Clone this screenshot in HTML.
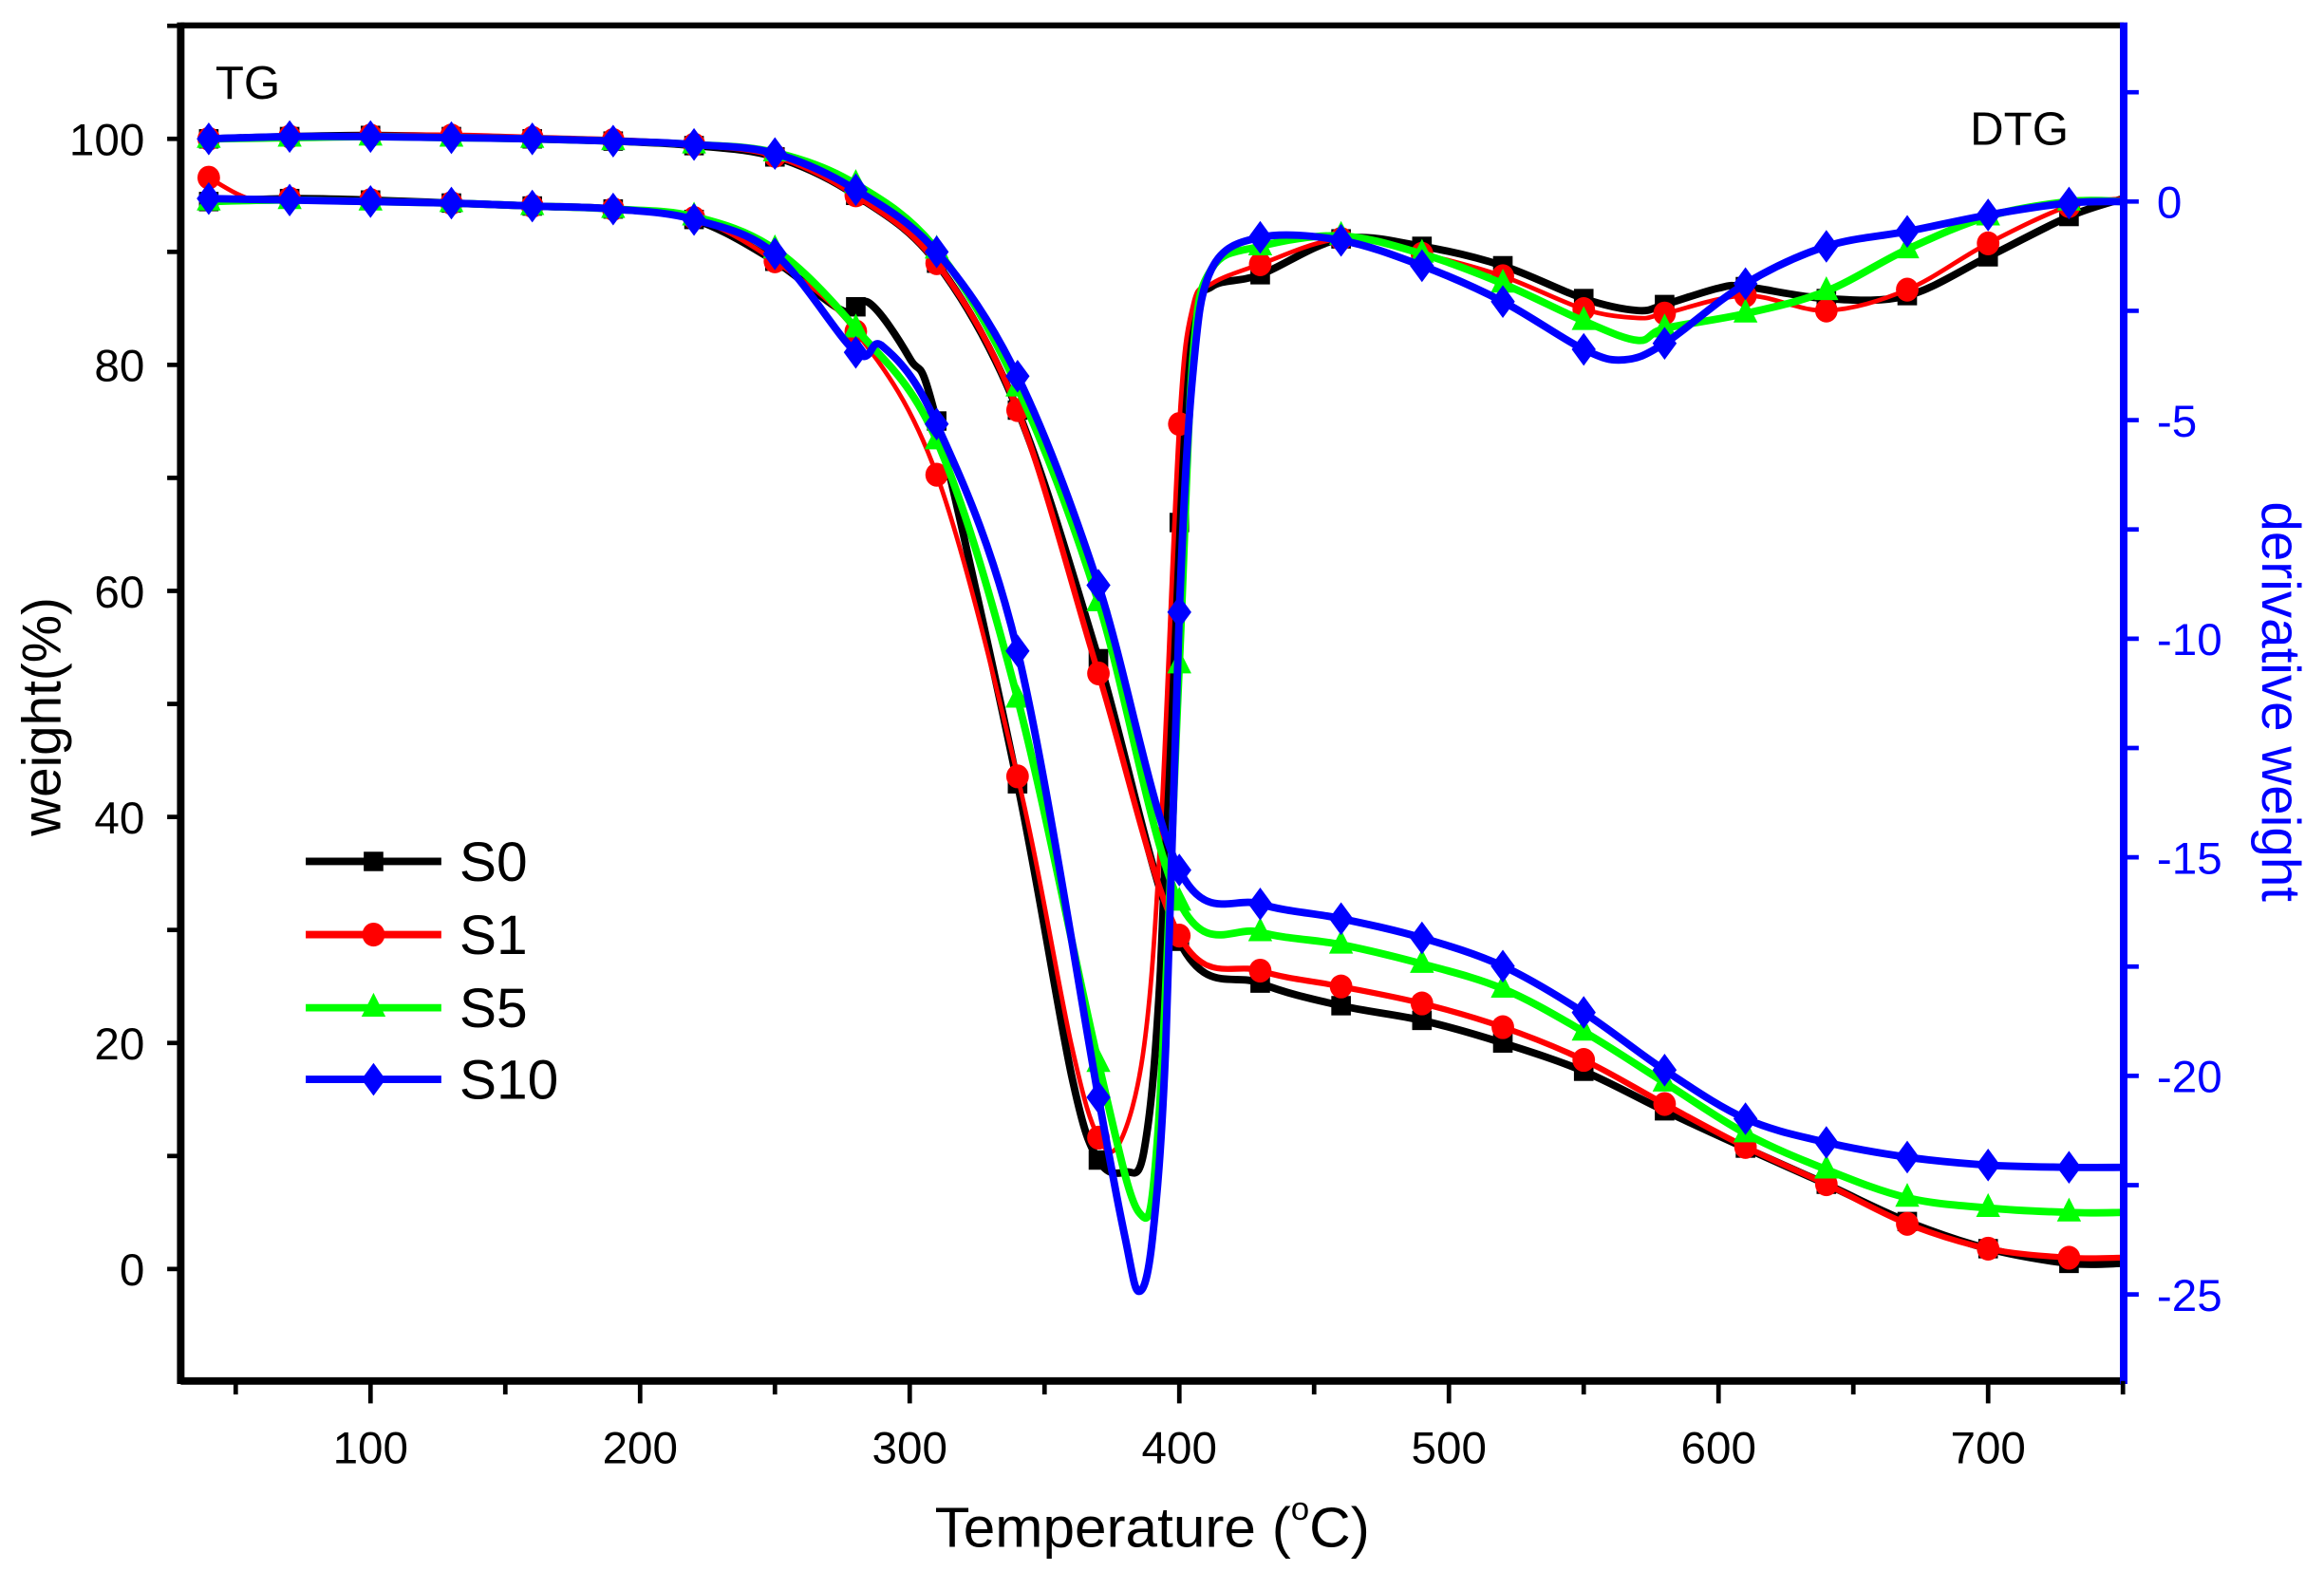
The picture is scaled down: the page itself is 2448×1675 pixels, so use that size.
<!DOCTYPE html>
<html><head><meta charset="utf-8"><style>
html,body{margin:0;padding:0;background:#fff;}
svg{display:block;}
text{font-family:"Liberation Sans",Arial,sans-serif;}
</style></head><body>
<svg id="s" width="2448" height="1675" viewBox="0 0 1543 1065" preserveAspectRatio="none" xmlns="http://www.w3.org/2000/svg">
<rect width="1543" height="1065" fill="#fff"/>
<g id="curves"></g>
<g id="axes"></g>
<text x="765" y="1036" font-size="38" text-anchor="middle" fill="#000">Temperature (<tspan font-size="22" dy="-18">o</tspan><tspan dy="18">C)</tspan></text>
</svg>
<script>
var NS="http://www.w3.org/2000/svg";
function X(t){return 246+(t-100)*1.79;}
function W(w){return 850-7.57*w;}
function el(tag,attrs,parent,txt){var e=document.createElementNS(NS,tag);for(var k in attrs)e.setAttribute(k,attrs[k]);if(txt!==undefined)e.textContent=txt;(parent||document.getElementById('s')).appendChild(e);return e;}
function path(pts){var d="M"+pts[0][0]+","+pts[0][1];for(var i=0;i<pts.length-1;i++){var p0=pts[i-1]||pts[i],p1=pts[i],p2=pts[i+1],p3=pts[i+2]||p2;var c1=[p1[0]+(p2[0]-p0[0])/6,p1[1]+(p2[1]-p0[1])/6],c2=[p2[0]-(p3[0]-p1[0])/6,p2[1]-(p3[1]-p1[1])/6];d+=" C"+c1[0].toFixed(1)+","+c1[1].toFixed(1)+" "+c2[0].toFixed(1)+","+c2[1].toFixed(1)+" "+p2[0].toFixed(1)+","+p2[1].toFixed(1);}return d;}
var cols={S0:"#000",S1:"#ff0000",S5:"#00ff00",S10:"#0000ff"};
var TG={
S0:[[40,100],[70,100.2],[100,100.3],[130,100.2],[160,100],[190,99.8],[220,99.4],[250,98.4],[280,95],[310,89],[340,76],[370,54],[400,29],[430,25.3],[460,23.3],[490,22],[520,20],[550,17.5],[580,14],[610,10.7],[640,7.5],[670,4.2],[700,1.8],[730,0.5],[750,0.5]],
S1:[[40,100],[70,100.2],[100,100.3],[130,100.3],[160,100.1],[190,99.9],[220,99.5],[250,98.5],[280,95],[310,89],[340,76],[370,52.7],[400,29.5],[430,26.4],[460,25],[490,23.5],[520,21.4],[550,18.5],[580,14.6],[610,10.8],[640,7.5],[670,4],[700,1.8],[730,1],[750,1]],
S5:[[40,100],[70,100.1],[100,100.2],[130,100.1],[160,100],[190,99.8],[220,99.5],[250,98.8],[280,96],[310,90.2],[340,78],[370,59],[400,32.5],[430,29.8],[460,28.7],[490,27],[520,24.8],[550,21],[580,16.5],[610,12],[640,8.8],[670,6.3],[700,5.4],[730,5],[750,5]],
S10:[[40,100],[70,100.2],[100,100.2],[130,100.1],[160,100],[190,99.8],[220,99.5],[250,98.7],[280,95.5],[310,90],[340,79],[370,60.5],[400,35.3],[430,32.3],[460,31],[490,29.3],[520,26.8],[550,22.7],[580,17.6],[610,13.3],[640,11.2],[670,9.9],[700,9.2],[730,9],[750,9]]};
var DTG={
S0:[[40,135],[70,133],[100,134],[130,136],[160,138],[190,140],[220,147],[250,175],[275,208],[285,203],[300,240],[310,282],[340,525],[360,720],[370,777],[380,785],[387,770],[393,650],[400,350],[405,215],[412,192],[430,184],[460,160],[490,165],[520,178],[550,200],[570,208],[580,204],[600,193],[610,192],[640,200],[670,198],[700,172],[730,145],[750,133]],
S1:[[40,119],[55,133],[70,133],[100,134],[130,136],[160,138],[190,140],[220,146],[250,175],[280,222],[310,318],[340,520],[360,700],[370,762],[378,765],[387,700],[393,560],[400,284],[405,205],[412,190],[430,177],[460,160],[490,170],[520,185],[550,207],[570,213],[580,210],[610,198],[640,208],[670,194],[700,163],[730,138],[750,133]],
S5:[[40,135],[70,134],[100,135],[130,136],[160,138],[190,140],[220,145],[250,167],[280,220],[310,295],[340,468],[370,712],[385,812],[392,760],[400,445],[405,240],[412,180],[430,165],[460,158],[490,170],[520,190],[550,215],[570,228],[580,220],[610,210],[640,195],[670,167],[700,145],[730,135],[750,135]],
S10:[[40,133],[70,134],[100,135],[130,136],[160,138],[190,140],[220,147],[250,170],[280,236],[290,232],[310,284],[340,436],[370,735],[380,830],[385,865],[390,830],[395,700],[400,410],[405,250],[412,180],[430,159],[460,161],[490,178],[520,202],[550,234],[565,241],[580,230],[610,190],[640,165],[670,155],[700,144],[730,136],[750,135]]};
var mk=[40,70,100,130,160,190,220,250,280,310,340,370,400,430,460,490,520,550,580,610,640,670,700,730];
function marker(n,x,y,g){var c=cols[n];
 if(n=="S0")el('rect',{x:x-6.5,y:y-6.5,width:13,height:13,fill:c},g);
 else if(n=="S1")el('ellipse',{cx:x,cy:y,rx:7.5,ry:8,fill:c},g);
 else if(n=="S5")el('polygon',{points:(x)+","+(y-10)+" "+(x+8)+","+(y+6)+" "+(x-8)+","+(y+6),fill:c},g);
 else el('polygon',{points:x+","+(y-11)+" "+(x+8)+","+y+" "+x+","+(y+11)+" "+(x-8)+","+y,fill:c},g);}
var g=document.getElementById('curves');
function interpY(arr,t){for(var i=0;i<arr.length-1;i++){if(t>=arr[i][0]&&t<=arr[i+1][0]){var f=(t-arr[i][0])/(arr[i+1][0]-arr[i][0]);return arr[i][1]+f*(arr[i+1][1]-arr[i][1]);}}return arr[arr.length-1][1];}
["S0","S1","S5","S10"].forEach(function(n){
 var tp=TG[n].map(function(p){return [X(p[0]),W(p[1])];});
 el('path',{d:path(tp),fill:"none",stroke:cols[n],"stroke-width":n=="S1"?4:5,"stroke-linejoin":"round"},g);
 var dp=DTG[n].map(function(p){return [X(p[0]),p[1]];});
 el('path',{d:path(dp),fill:"none",stroke:cols[n],"stroke-width":n=="S1"?3:5,"stroke-linejoin":"round"},g);
 mk.forEach(function(t){marker(n,X(t),W(interpY(TG[n],t)),g);marker(n,X(t),interpY(DTG[n],t),g);});
});
var a=document.getElementById('axes');
el('line',{x1:120,y1:17,x2:1410,y2:17,stroke:"#000","stroke-width":4},a);
el('line',{x1:120,y1:925,x2:1410,y2:925,stroke:"#000","stroke-width":5},a);
el('line',{x1:120,y1:15,x2:120,y2:927,stroke:"#000","stroke-width":5},a);
el('line',{x1:1410,y1:15,x2:1410,y2:927,stroke:"#0000ff","stroke-width":5},a);
for(var v=-10;v<=110;v+=10){var y=W(v);if(y<17||y>925)continue;el('line',{x1:111,y1:y,x2:120,y2:y,stroke:"#000","stroke-width":3},a);}
for(var v=0;v<=100;v+=20){el('text',{x:96,y:W(v)+11,"font-size":30,"text-anchor":"end",fill:"#000"},a,String(v));}
for(var t=50;t<=750;t+=50){var x=X(t);el('line',{x1:x,y1:925,x2:x,y2:t%100==0?940:934,stroke:"#000","stroke-width":3},a);}
for(var t=100;t<=700;t+=100){el('text',{x:X(t),y:980,"font-size":30,"text-anchor":"middle",fill:"#000"},a,String(t));}
function R(v){return 135-29.28*v;}
for(var v=2.5;v>=-27.5;v-=2.5){var y=R(v);if(y<17||y>925)continue;el('line',{x1:1410,y1:y,x2:1420,y2:y,stroke:"#0000ff","stroke-width":3},a);}
for(var v=0;v>=-25;v-=5){el('text',{x:1432,y:R(v)+11,"font-size":30,fill:"#0000ff"},a,String(v));}
el('text',{x:143,y:66,"font-size":31,fill:"#000"},a,"TG");
el('text',{x:1308,y:97,"font-size":31,fill:"#000"},a,"DTG");
el('text',{transform:"translate(40,480) rotate(-90)","font-size":36,"text-anchor":"middle",fill:"#000"},a,"weight(%)");
el('text',{transform:"translate(1502,470) rotate(90)","font-size":36,"text-anchor":"middle",fill:"#0000ff"},a,"derivative weight");
var L=[["S0",577],["S1",626],["S5",675],["S10",723]];
L.forEach(function(l){el('line',{x1:203,y1:l[1],x2:293,y2:l[1],stroke:cols[l[0]],"stroke-width":5},a);marker(l[0],248,l[1],a);el('text',{x:305,y:l[1]+13,"font-size":37,fill:"#000"},a,l[0]);});
</script>
</body></html>
